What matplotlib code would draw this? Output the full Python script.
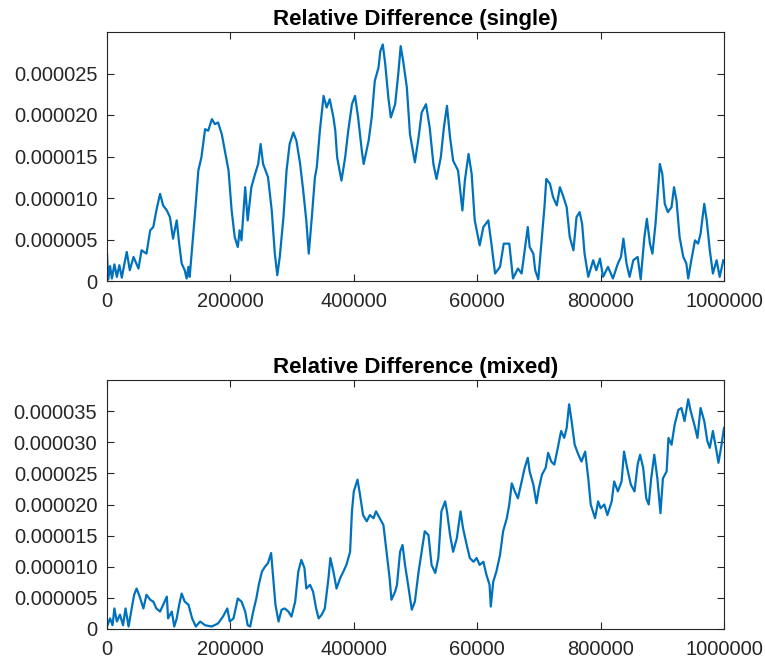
import matplotlib
matplotlib.use("Agg")
import matplotlib.pyplot as plt
import numpy as np

plt.rcParams['font.family'] = ['Liberation Sans', 'DejaVu Sans']

# x in thousands of iterations, y in units of 1e-6
x_single = [0, 2, 5, 8, 12, 16, 20, 24, 27, 32, 37, 43, 51, 56, 64, 70, 75, 80, 86, 91, 97, 102, 107, 113, 117,
            121, 126, 129, 132, 134, 138, 143, 148, 153, 159, 164, 170, 175, 180, 186, 191, 197, 202, 207, 212,
            215, 218, 224, 228, 234, 240, 245, 249, 253, 261, 267, 272, 276, 280, 286, 291, 296, 302, 307, 313,
            318, 323, 327, 332, 337, 340, 345, 351, 356, 361, 367, 370, 373, 380, 386, 391, 397, 402, 407, 413,
            416, 424, 429, 434, 440, 443, 447, 451, 456, 460, 467, 472, 476, 480, 486, 491, 499, 505, 510, 517,
            523, 529, 534, 541, 546, 551, 556, 561, 569, 576, 580, 586, 591, 596, 604, 610, 618, 623, 629, 637,
            643, 652, 658, 666, 672, 677, 682, 685, 691, 694, 699, 703, 709, 712, 718, 723, 729, 734, 739, 745,
            750, 756, 761, 766, 770, 774, 780, 788, 793, 799, 804, 812, 820, 828, 833, 837, 842, 847, 853, 860,
            865, 871, 875, 880, 884, 889, 893, 896, 900, 904, 909, 915, 919, 923, 928, 934, 939, 942, 947, 953,
            958, 962, 968, 972, 977, 982, 988, 993, 999]
y_single = [3.3, 0.2, 1.8, 0.3, 2.0, 0.5, 1.9, 0.4, 1.6, 3.5, 1.3, 2.9, 1.5, 3.7, 3.3, 6.1, 6.5, 8.5, 10.5, 9.1,
            8.5, 7.7, 5.1, 7.3, 4.5, 2.1, 1.3, 0.3, 1.7, 0.5, 4.1, 8.5, 13.3, 14.9, 18.3, 18.1, 19.5, 18.9, 19.1,
            17.7, 15.7, 13.3, 8.5, 5.3, 4.1, 6.1, 4.9, 11.3, 7.3, 11.3, 12.9, 14.1, 16.5, 14.1, 12.5, 8.5, 3.3,
            0.7, 2.9, 7.7, 13.3, 16.5, 17.9, 16.9, 14.1, 10.9, 7.3, 3.3, 7.7, 12.5, 13.7, 18.1, 22.3, 20.9, 21.9,
            19.7, 18.1, 14.9, 12.1, 14.9, 18.1, 21.3, 22.3, 19.7, 15.7, 14.1, 16.9, 19.7, 24.1, 25.7, 27.7, 28.5,
            26.1, 22.1, 19.7, 21.3, 24.9, 28.3, 26.5, 23.3, 17.7, 14.3, 17.3, 20.3, 21.3, 18.5, 14.1, 12.3, 14.9,
            18.5, 21.1, 17.3, 14.5, 13.3, 8.5, 12.1, 15.3, 12.9, 7.3, 4.3, 6.5, 7.3, 4.5, 0.9, 1.7, 4.5, 4.5, 0.3,
            1.5, 0.9, 3.7, 6.5, 4.1, 3.3, 1.3, 0.2, 3.7, 8.9, 12.3, 11.7, 10.1, 9.1, 11.3, 10.3, 8.9, 5.3, 3.7,
            7.7, 8.3, 6.9, 3.3, 0.5, 2.5, 1.3, 2.7, 0.5, 1.7, 0.3, 2.1, 2.9, 5.1, 2.1, 0.5, 2.5, 2.9, 0.2, 5.3,
            7.5, 4.5, 3.3, 6.9, 10.9, 14.1, 12.9, 9.3, 8.3, 8.9, 11.3, 9.7, 5.3, 2.9, 2.1, 0.3, 2.5, 4.9, 4.5,
            5.7, 9.3, 7.3, 3.7, 0.9, 2.5, 0.5, 2.5]

x_mixed = [0, 5, 9, 12, 16, 21, 26, 30, 35, 40, 44, 48, 53, 59, 64, 70, 75, 80, 86, 91, 97, 99, 105, 109, 113,
           117, 121, 126, 132, 138, 144, 151, 159, 170, 180, 188, 195, 199, 205, 212, 218, 224, 228, 232, 237,
           242, 246, 251, 256, 261, 266, 269, 273, 278, 283, 288, 294, 299, 305, 310, 315, 320, 323, 329, 334,
           339, 343, 348, 353, 359, 362, 367, 372, 378, 383, 388, 394, 397, 400, 406, 410, 415, 421, 426, 432,
           436, 442, 448, 453, 458, 461, 467, 470, 475, 479, 483, 488, 494, 499, 505, 510, 515, 521, 526, 532,
           537, 542, 548, 551, 556, 561, 567, 573, 577, 583, 588, 594, 599, 604, 610, 615, 620, 622, 626, 631,
           637, 642, 648, 652, 656, 661, 666, 672, 677, 682, 685, 691, 696, 700, 705, 711, 715, 720, 725, 730,
           736, 741, 745, 749, 753, 758, 764, 769, 775, 780, 784, 791, 796, 800, 806, 811, 818, 822, 828, 834,
           838, 843, 849, 855, 860, 864, 869, 874, 878, 882, 887, 892, 897, 901, 907, 910, 915, 920, 926, 931,
           936, 942, 946, 952, 957, 962, 968, 973, 977, 982, 988, 991, 996, 1000]
y_mixed = [0.4, 1.7, 0.6, 3.3, 1.2, 2.3, 0.6, 3.3, 0.4, 3.3, 5.5, 6.5, 5.2, 3.3, 5.5, 4.7, 4.4, 3.3, 2.8, 3.9,
           5.2, 1.7, 2.8, 0.4, 1.7, 3.9, 5.7, 4.4, 3.9, 1.7, 0.4, 1.2, 0.6, 0.4, 0.9, 2.0, 3.3, 1.2, 1.7, 4.9,
           4.4, 2.8, 0.6, 0.4, 2.8, 4.9, 7.1, 9.2, 10.0, 10.6, 12.2, 8.7, 3.9, 1.2, 3.1, 3.3, 2.8, 2.0, 4.4, 9.2,
           11.1, 9.8, 6.5, 7.1, 6.0, 3.3, 1.7, 2.3, 3.3, 8.2, 11.4, 9.2, 6.5, 8.2, 9.2, 10.3, 12.4, 18.9, 22.1,
           24.0, 21.6, 18.3, 17.3, 18.3, 17.8, 18.9, 17.8, 16.7, 12.4, 8.2, 4.7, 6.0, 7.1, 12.4, 13.5, 10.3, 7.1,
           3.1, 4.4, 9.2, 12.4, 15.7, 15.1, 10.3, 9.0, 11.4, 18.9, 20.5, 18.9, 15.1, 12.4, 14.6, 18.9, 16.2, 13.5,
           11.4, 10.8, 11.4, 10.3, 10.8, 8.7, 7.1, 3.6, 7.6, 9.2, 11.9, 15.7, 17.8, 20.0, 23.4, 22.1, 21.0, 23.7,
           25.9, 27.5, 25.3, 23.2, 20.2, 22.6, 24.8, 25.9, 28.3, 26.9, 26.4, 28.8, 31.8, 30.7, 32.3, 36.1, 33.4,
           29.6, 28.0, 26.9, 28.5, 24.2, 20.0, 17.8, 20.5, 19.4, 20.0, 18.3, 20.5, 23.7, 22.1, 23.7, 28.5, 25.9,
           23.2, 22.1, 26.4, 28.0, 25.9, 21.0, 20.0, 24.2, 28.0, 24.2, 18.6, 24.2, 25.3, 30.7, 29.6, 32.8, 35.2,
           35.5, 33.4, 36.9, 35.0, 32.8, 30.7, 35.5, 33.4, 30.2, 29.1, 31.8, 28.5, 26.7, 29.6, 32.3]

x_ticks = [0, 200000, 400000, 600000, 800000, 1000000]
x_tick_labels = ['0', '200000', '400000', '60000', '800000', '1000000']
y_ticks_single = [0, 5e-6, 10e-6, 15e-6, 20e-6, 25e-6]
y_labels_single = ['0', '0.000005', '0.000010', '0.000015', '0.000020', '0.000025']
y_ticks_mixed = [0, 5e-6, 10e-6, 15e-6, 20e-6, 25e-6, 30e-6, 35e-6]
y_labels_mixed = ['0', '0.000005', '0.000010', '0.000015', '0.000020', '0.000025', '0.000030', '0.000035']

line_color = '#0072BD'
axis_color = '#262626'

fig = plt.figure(figsize=(7.65, 6.65), dpi=100)
ax1 = fig.add_axes([107 / 765, 1 - 281 / 665, 617 / 765, 249 / 665])
ax2 = fig.add_axes([107 / 765, 1 - 629 / 665, 617 / 765, 249 / 665])

panels = [
    (ax1, x_single, y_single, 'Relative Difference (single)', 3e-5, y_ticks_single, y_labels_single),
    (ax2, x_mixed, y_mixed, 'Relative Difference (mixed)', 4e-5, y_ticks_mixed, y_labels_mixed),
]
for ax, xs, ys, title, ymax, yt, yl in panels:
    ax.plot(np.array(xs) * 1000, np.array(ys) * 1e-6, color=line_color, lw=1.6)
    ax.set_xlim(0, 1000000)
    ax.set_ylim(0, ymax)
    ax.set_xticks(x_ticks)
    ax.set_xticklabels(x_tick_labels)
    ax.set_yticks(yt)
    ax.set_yticklabels(yl)
    ax.tick_params(direction='in', top=True, right=True, length=5, width=0.8,
                   colors=axis_color, labelsize=14.5)
    ax.tick_params(axis='y', pad=7)
    ax.tick_params(axis='x', pad=8)
    for s in ax.spines.values():
        s.set_color(axis_color)
        s.set_linewidth(0.8)
    ax.set_title(title, fontsize=16, fontweight='bold', color='black', pad=5)

fig.savefig('out.png', dpi=100)
